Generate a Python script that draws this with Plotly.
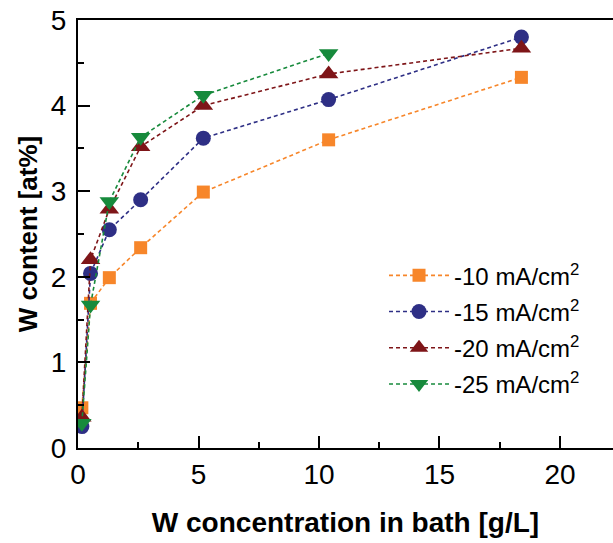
import plotly.graph_objects as go

conc = [0.16, 0.52, 1.3, 2.6, 5.2, 10.4, 18.4]
w_10 = [0.47, 1.69, 1.99, 2.34, 2.99, 3.60, 4.33]
w_15 = [0.25, 2.04, 2.55, 2.90, 3.62, 4.07, 4.80]
w_20 = [0.36, 2.20, 2.79, 3.52, 4.00, 4.37, 4.67]
w_25 = [0.29, 1.67, 2.88, 3.63, 4.12, 4.61]
names = ["-10 mA/cm<sup>2</sup>", "-15 mA/cm<sup>2</sup>",
         "-20 mA/cm<sup>2</sup>", "-25 mA/cm<sup>2</sup>"]

series = [
    (w_10, "#F7862A", "square", 13),
    (w_15, "#2E2F85", "circle", 15),
    (w_20, "#7E1518", "triangle-up", 17),
    (w_25, "#178A3C", "triangle-down", 17),
]

fig = go.Figure()
for i, ((vals, col, sym, sz), nm) in enumerate(zip(series, names)):
    fig.add_trace(go.Scatter(
        x=conc[:len(vals)], y=vals, name=nm, mode="lines+markers",
        legendgroup=f"g{i}",
        line=dict(color=col, width=1.6, dash="4px,3px"),
        marker=dict(symbol=sym, size=sz, color=col, line=dict(width=0)),
    ))

font = "Liberation Sans, Arial, sans-serif"
fig.update_layout(
    width=613, height=543,
    margin=dict(l=78, r=0, t=20, b=95),
    plot_bgcolor="white", paper_bgcolor="white",
    font=dict(family=font, color="black"),
    showlegend=True,
    legend=dict(x=0.572, y=0.455, xanchor="left", yanchor="top",
                font=dict(size=24, family=font), bgcolor="rgba(0,0,0,0)",
                itemwidth=60, tracegroupgap=2),
    xaxis=dict(
        range=[0, 22.2], showgrid=False, zeroline=False,
        showline=True, linecolor="black", linewidth=2, mirror=True,
        ticks="inside", ticklen=12, tickwidth=2, tickcolor="black",
        dtick=5, tick0=0, tickfont=dict(size=28),
        minor=dict(ticks="inside", ticklen=6, tickwidth=2, dtick=2.5, tickcolor="black"),
        title=dict(text="<b>W concentration in bath [g/L]</b>", font=dict(size=28), standoff=24),
    ),
    yaxis=dict(
        range=[0, 5], showgrid=False, zeroline=False,
        showline=True, linecolor="black", linewidth=2,
        ticks="inside", ticklen=12, tickwidth=2, tickcolor="black",
        dtick=1, tick0=0, tickfont=dict(size=28), ticklabelstandoff=4,
        minor=dict(ticks="inside", ticklen=6, tickwidth=2, dtick=0.5, tickcolor="black"),
        title=dict(text="<b>W content [at%]</b>", font=dict(size=26), standoff=6),
    ),
)
fig.write_html("out.html")
